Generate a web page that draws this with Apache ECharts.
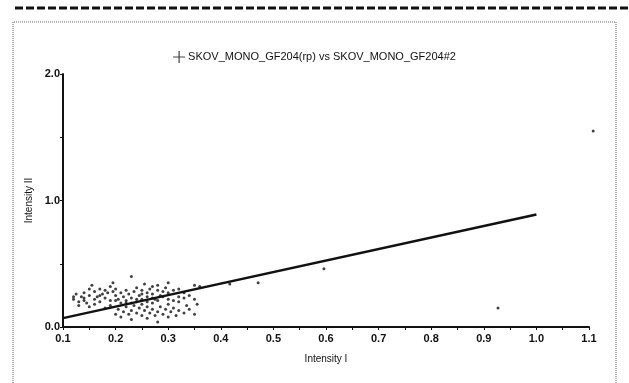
<!DOCTYPE html>
<html>
<head>
<meta charset="utf-8">
<script src="https://cdn.jsdelivr.net/npm/echarts@6/dist/echarts.min.js"></script>
<style>
  html, body { margin: 0; padding: 0; background: #fff; }
  #main { width: 629px; height: 383px; }
</style>
</head>
<body>
<div id="main"></div>
<script>
// series name shown in the legend
const seriesName = "SKOV_MONO_GF204(rp) vs SKOV_MONO_GF204#2";

// scatter points [Intensity I, Intensity II]
const upperCloud = [
  [0.12,0.22],[0.125,0.26],[0.13,0.2],[0.135,0.24],[0.14,0.27],[0.14,0.21],[0.145,0.19],
  [0.15,0.25],[0.15,0.3],[0.155,0.33],[0.16,0.22],[0.16,0.28],[0.165,0.24],[0.17,0.2],
  [0.17,0.3],[0.175,0.26],[0.18,0.23],[0.18,0.29],[0.185,0.27],[0.19,0.32],[0.19,0.21],
  [0.195,0.35],[0.195,0.28],[0.2,0.25],[0.2,0.3],[0.205,0.22],[0.21,0.27],[0.21,0.19],
  [0.215,0.24],[0.22,0.29],[0.22,0.21],[0.225,0.26],[0.23,0.4],[0.23,0.23],[0.235,0.28],
  [0.24,0.2],[0.24,0.31],[0.245,0.25],[0.25,0.22],[0.25,0.29],[0.255,0.34],[0.26,0.27],
  [0.26,0.24],[0.265,0.3],[0.27,0.32],[0.27,0.26],[0.275,0.22],[0.28,0.29],[0.28,0.33],
  [0.285,0.25],[0.29,0.28],[0.295,0.31],[0.3,0.27],[0.3,0.35],[0.31,0.29],[0.32,0.3],
  [0.33,0.27],[0.35,0.33],[0.36,0.32]
];
const midCloud = [
  [0.13,0.17],[0.16,0.18],[0.19,0.17],[0.22,0.19],[0.24,0.22],[0.26,0.2],[0.28,0.21],
  [0.3,0.22],[0.32,0.24],[0.34,0.25],[0.15,0.16],[0.18,0.15],[0.12,0.24],[0.14,0.23],
  [0.17,0.25],[0.2,0.21],[0.23,0.19],[0.25,0.26],[0.27,0.23],[0.29,0.24],[0.31,0.21],
  [0.33,0.23]
];
const lowerCloud = [
  [0.2,0.1],[0.205,0.14],[0.21,0.08],[0.215,0.12],[0.22,0.16],[0.225,0.1],[0.23,0.06],
  [0.23,0.13],[0.235,0.17],[0.24,0.11],[0.245,0.15],[0.25,0.09],[0.25,0.18],[0.255,0.13],
  [0.26,0.07],[0.26,0.16],[0.265,0.11],[0.27,0.14],[0.27,0.19],[0.275,0.09],[0.28,0.12],
  [0.28,0.04],[0.285,0.16],[0.29,0.1],[0.295,0.14],[0.3,0.08],[0.3,0.18],[0.305,0.12],
  [0.31,0.15],[0.315,0.09],[0.32,0.2],[0.32,0.13],[0.33,0.11],[0.335,0.17],[0.34,0.14],
  [0.35,0.1],[0.35,0.22],[0.355,0.18]
];
const outliers = [[0.417,0.34],[0.471,0.35],[0.596,0.46],[0.927,0.15],[1.108,1.55]];

// fitted line end points
const fitLine = [[0.1,0.07],[1.0,0.89]];

const chart = echarts.init(document.getElementById("main"));

const option = {
  animation: false,
  backgroundColor: "#fff",
  textStyle: { fontFamily: "Liberation Sans, Arial, sans-serif" },
  graphic: [
    {
      type: "line",
      shape: { x1: 15, y1: 8, x2: 629, y2: 8 },
      style: { stroke: "#111", lineWidth: 3, lineDash: [8, 3] }
    },
    {
      type: "polyline",
      shape: { points: [[13, 383], [13, 22], [616, 22], [616, 383]] },
      style: { stroke: "#666", lineWidth: 1, lineDash: [1, 1], fill: null }
    }
  ],
  legend: {
    top: 46,
    left: "center",
    itemWidth: 12,
    itemHeight: 12,
    itemGap: 4,
    data: [{
      name: seriesName,
      icon: "path://M0,4.5h10v1h-10zM4.5,0h1v10h-1z"
    }],
    textStyle: { fontSize: 11, color: "#111", padding: [0, 0, 0, -2] }
  },
  grid: { left: 63, right: 40, top: 74, bottom: 56 },
  xAxis: {
    type: "value",
    min: 0.1,
    max: 1.1,
    interval: 0.1,
    name: "Intensity I",
    nameLocation: "middle",
    nameGap: 27,
    nameTextStyle: { fontSize: 10, color: "#111" },
    axisLine: { lineStyle: { color: "#111", width: 2 } },
    axisTick: { lineStyle: { color: "#111" }, length: 3 },
    minorTick: { show: true, splitNumber: 2, length: 3, lineStyle: { color: "#111" } },
    splitLine: { show: false },
    axisLabel: {
      fontSize: 11, color: "#111", fontWeight: "bold", margin: 6,
      formatter: v => v.toFixed(1)
    }
  },
  yAxis: {
    type: "value",
    min: 0,
    max: 2,
    interval: 1,
    name: "Intensity II",
    nameLocation: "middle",
    nameGap: 25,
    nameTextStyle: { fontSize: 10, color: "#111" },
    axisLine: { show: true, lineStyle: { color: "#111", width: 2 } },
    axisTick: { show: true, lineStyle: { color: "#111" }, length: 3 },
    minorTick: { show: true, splitNumber: 2, length: 3, lineStyle: { color: "#111" } },
    splitLine: { show: false },
    axisLabel: {
      fontSize: 11, color: "#111", fontWeight: "bold", margin: 3,
      formatter: v => v.toFixed(1)
    }
  },
  series: [
    {
      name: seriesName,
      type: "scatter",
      symbol: "circle",
      symbolSize: 3,
      clip: false,
      itemStyle: { color: "#111" },
      data: upperCloud.concat(midCloud, lowerCloud, outliers)
    },
    {
      name: "fit",
      type: "line",
      symbol: "none",
      lineStyle: { color: "#111", width: 2.5 },
      data: fitLine
    }
  ]
};

chart.setOption(option);
</script>
</body>
</html>
